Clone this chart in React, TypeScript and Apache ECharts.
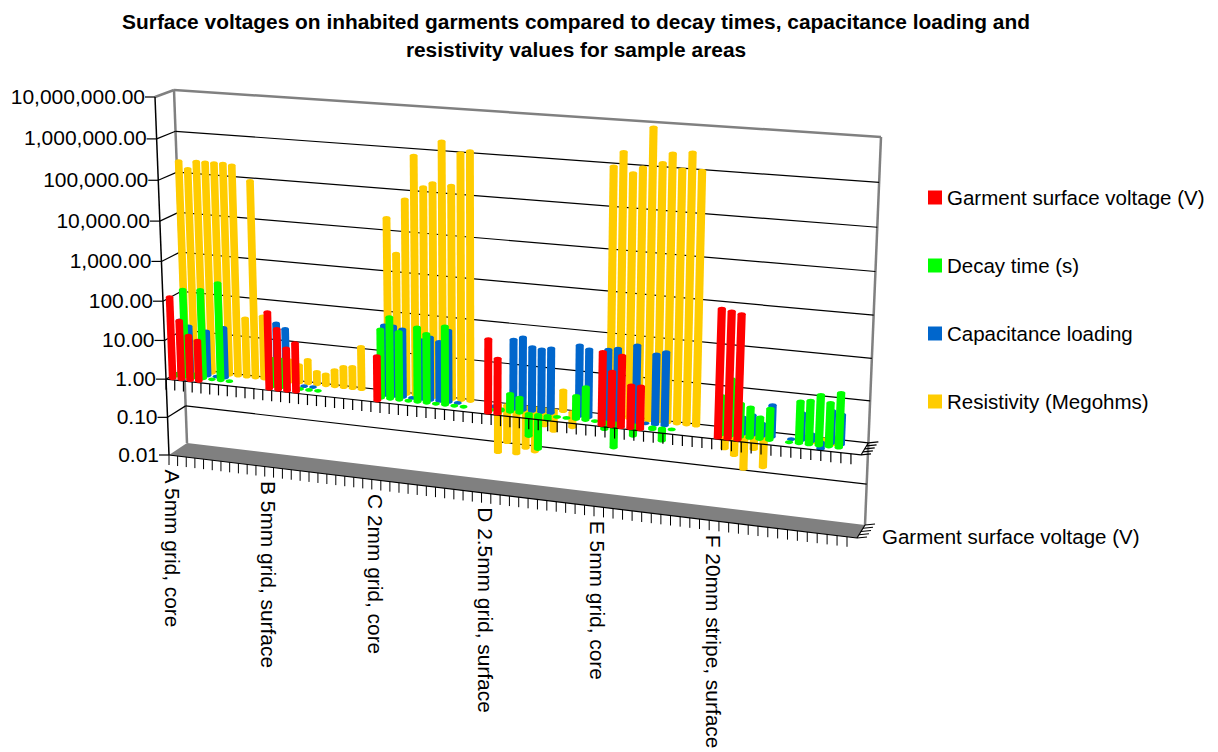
import React, { useEffect, useRef } from "react";
import * as echarts from "echarts";

const FONT = '"Liberation Sans", Arial, sans-serif';
const CATEGORY_COUNT = 74;
const categoryIndex = Array.from({ length: CATEGORY_COUNT }, (_, i) => String(i));
const categoryLabels: [number, string][] = [
  [0, "A 5mm grid, core"],
  [11, "B 5mm grid, surface"],
  [23, "C 2mm grid, core"],
  [35, "D 2.5mm grid, surface"],
  [47, "E 5mm grid, core"],
  [59, "F 20mm stripe, surface"],
];
const yTickValues = [0.01, 0.1, 1, 10, 100, 1000, 10000, 100000, 1000000, 10000000];
const yTickLabels = ["0.01", "0.10", "1.00", "10.00", "100.00", "1,000.00", "10,000.00", "100,000.00", "1,000,000.00", "10,000,000.00"];
const legendNames = ["Garment surface voltage (V)", "Decay time (s)", "Capacitance loading", "Resistivity (Megohms)"];

const redBars = [
  [0, 120], [1, 32], [2, 14], [3, 11],
  [11, 88], [12, 35], [13, 12], [14, 17],
  [23, 13],
  [35, 65], [36, 23],
  [47, 60], [48, 21], [49, 54], [50, 11], [51, 11],
  [59, 1150], [60, 1050], [61, 950],
];
const greenBars = [
  [0, 1.1], [1, 170], [2, 1.2], [3, 185], [4, 1], [5, 300], [6, 1],
  [11, 5], [12, 5], [14, 1], [15, 1], [16, 1],
  [23, 52], [24, 110], [25, 50], [26, 1], [27, 72], [28, 52], [29, 1], [30, 88], [31, 1], [32, 1],
  [35, 1], [36, 1.1], [37, 2.8], [38, 2.4], [39, 0.28], [40, 0.14], [41, 0.8], [42, 1], [43, 1], [44, 3.7], [45, 6.4], [46, 1],
  [47, 0.67], [48, 0.25], [50, 0.55], [52, 0.9], [53, 0.5], [54, 1],
  [59, 8.7], [60, 23], [61, 6.3], [62, 5.4], [63, 3.3], [64, 5.7], [66, 1], [67, 10], [68, 11], [69, 16], [70, 11], [71, 20],
];
const blueBars = [
  [0, 23], [1, 17], [3, 14], [4, 1], [5, 19],
  [11, 34], [12, 26], [14, 1], [15, 1],
  [23, 56], [24, 56], [25, 50], [26, 1], [27, 30], [28, 37], [29, 30], [30, 60], [31, 1],
  [35, 1.05], [37, 52], [38, 62], [39, 38], [40, 35], [41, 39], [44, 54], [45, 46],
  [47, 50], [48, 56], [50, 74], [51, 1], [52, 50], [53, 60],
  [61, 2.5], [62, 3], [63, 2], [64, 5.9], [66, 1], [67, 4.5], [68, 1.5], [69, 0.7], [70, 6], [71, 5.2],
];
const yellowBars = [
  [0, 200000], [1, 135000], [2, 210000], [3, 210000], [4, 210000], [5, 210000], [6, 200000], [7, 32], [8, 90000], [9, 40],
  [12, 3.5], [13, 2.8], [14, 4], [15, 2.1], [16, 1.9], [17, 2.6], [18, 3.3], [19, 3.5], [20, 12],
  [23, 21000], [24, 3000], [25, 64000], [26, 730000], [27, 135000], [28, 175000], [29, 1750000], [30, 165000], [31, 1000000], [32, 1150000],
  [35, 0.06], [36, 0.115], [37, 0.063], [38, 0.093], [39, 0.08], [40, 0.39], [41, 0.3], [42, 3.3], [43, 0.42],
  [47, 900000], [48, 2000000], [49, 680000], [50, 950000], [51, 8000000], [52, 1300000], [53, 2200000], [54, 1000000], [55, 2500000], [56, 1000000],
  [59, 0.33], [60, 0.24], [61, 0.117], [62, 0.38], [63, 0.145], [68, 0.8], [69, 0.8], [70, 0.8],
];

type P = [number, number];
const FLB: P = [169, 455], FLT: P = [155, 97], FRB: P = [857, 538], FRT: P = [876, 146];
const BLB: P = [187, 443], BLT: P = [174, 90], BRB: P = [865, 525], BRT: P = [881, 137];
const mix = (a: P, b: P, k: number): P => [a[0] + (b[0] - a[0]) * k, a[1] + (b[1] - a[1]) * k];

// Perspective of the 3D box: unit x, height t and depth z to page pixels
function project(x: number, t: number, z: number): P {
  const xw = 0.925 * x + 0.075 * x * x;
  const tw = 0.94 * t + 0.06 * t * t;
  const fl = mix(FLB, FLT, tw), fr = mix(FRB, FRT, tw);
  const bl = mix(BLB, BLT, tw), br = mix(BRB, BRT, tw);
  return mix(mix(fl, fr, xw), mix(bl, br, xw), z);
}

function unit(api: any, params: any, cat: number, v: number) {
  const c = api.coord([cat, v]);
  const s = params.coordSys;
  return { x: (c[0] - s.x) / s.width, t: 1 - (c[1] - s.y) / s.height };
}

const seg = (a: P, b: P, stroke: string, lineWidth = 1.2) => ({
  type: "line",
  shape: { x1: a[0], y1: a[1], x2: b[0], y2: b[1] },
  style: { stroke, lineWidth },
  silent: true,
});

const barRender = (depth: number, color: string) => (params: any, api: any) => {
  const cat = api.value(0), v = api.value(1);
  const top = unit(api, params, cat, v);
  const base = unit(api, params, cat, 1);
  const a = project(base.x, base.t, depth), b = project(top.x, top.t, depth);
  const hw = 3.8 + 0.4 * base.x, ry = 1.9;
  const style = { fill: color };
  const children: any[] = [
    { type: "ellipse", shape: { cx: a[0], cy: a[1], rx: hw, ry }, style },
  ];
  if (Math.abs(a[1] - b[1]) > 0.5) {
    children.push(
      { type: "polygon", shape: { points: [[a[0] - hw, a[1]], [a[0] + hw, a[1]], [b[0] + hw, b[1]], [b[0] - hw, b[1]]] }, style },
      { type: "ellipse", shape: { cx: b[0], cy: b[1], rx: hw, ry }, style },
    );
  }
  return { type: "group", children };
};

const barSeries = (name: string, data: number[][], depth: number, color: string) => ({
  type: "custom",
  name,
  data,
  clip: false,
  encode: { x: 0, y: 1 },
  itemStyle: { color },
  renderItem: barRender(depth, color),
});

const frameRender = (params: any, api: any) => {
  const g = "#808080";
  const floor = [project(0, 0, 0), project(1, 0, 0), project(1, 0, 1), project(0, 0, 1)];
  return {
    type: "group",
    children: [
      { type: "polygon", shape: { points: floor }, style: { fill: g } },
      seg(project(0, 1, 0), project(0, 1, 1), g, 2.5),
      seg(project(0, 1, 1), project(1, 1, 1), g, 2.5),
      seg(project(0, 1, 1), project(0, 0, 1), g, 2.5),
      seg(project(1, 1, 1), project(1, 0, 1), g, 2.5),
      seg(project(0, 1, 0), project(0, 0, 0), "#000", 1.5),
      seg(project(0, 0, 0), project(1, 0, 0), "#000", 1.2),
      { type: "text", x: 882, y: 536, style: { text: legendNames[0], font: `20.5px ${FONT}`, fill: "#000", textAlign: "left", textVerticalAlign: "middle" } },
    ],
  };
};

const gridRender = (params: any, api: any) => {
  const i = params.dataIndex;
  const t = unit(api, params, 0, yTickValues[i]).t;
  const fl = project(0, t, 0), bl = project(0, t, 1), br = project(1, t, 1);
  const children: any[] = [
    seg(fl, [fl[0] - 10, fl[1]], "#000", 1.2),
    { type: "text", x: fl[0] - 10, y: fl[1] - 1, style: { text: yTickLabels[i], font: `21px ${FONT}`, fill: "#000", textAlign: "right", textVerticalAlign: "middle" } },
  ];
  if (i > 0 && i < yTickValues.length - 1) {
    children.push(seg(fl, bl, "#000", 1.2), seg(bl, br, "#000", 1.2));
  }
  return { type: "group", children };
};

// Depth-axis ticks at the right of the floor and of the 1.00 plane
const depthTicks = (t: number) => {
  const out: any[] = [seg(project(1, t, 0), project(1, t, 1), "#000", 1.2)];
  [0, 0.25, 0.5, 0.75, 1].forEach((z) => {
    const p = project(1, t, z);
    out.push(seg(p, [p[0] + 10, p[1] - 1], "#000", 1.2));
  });
  return out;
};

const floorTickRender = (params: any, api: any) => {
  const i = params.dataIndex;
  const s = params.coordSys;
  const left = (api.coord([i, 1])[0] - s.x) / s.width - 0.5 / CATEGORY_COUNT;
  const p = project(left, 0, 0);
  const children: any[] = [seg(p, [p[0], p[1] + 10], "#000", 1)];
  const lab = categoryLabels.find((c) => c[0] === i);
  if (lab) {
    const q = project(left + 0.5 / CATEGORY_COUNT, 0, 0);
    children.push({
      type: "text", x: q[0] - 1, y: q[1] + 14, rotation: -Math.PI / 2,
      style: { text: lab[1], font: `20.9px ${FONT}`, fill: "#000", textAlign: "left", textVerticalAlign: "middle" },
    });
  }
  if (i === 0) children.push(...depthTicks(0));
  return { type: "group", children };
};

const baseTickRender = (params: any, api: any) => {
  const i = params.dataIndex;
  const s = params.coordSys;
  const left = (api.coord([i, 1])[0] - s.x) / s.width - 0.5 / CATEGORY_COUNT;
  const tb = unit(api, params, 0, 1).t;
  const p = project(left, tb, 0);
  const children: any[] = [seg(p, [p[0], p[1] + 10.5], "#000", 1.2)];
  if (i === 0) {
    children.push(seg(project(0, tb, 0), project(1, tb, 0), "#000", 1.2), ...depthTicks(tb));
  }
  return { type: "group", children };
};

const helper = (data: any[], renderItem: any) => ({
  type: "custom", data, clip: false, silent: true, encode: { x: 0 }, renderItem,
});

export default function App() {
  const ref = useRef<HTMLDivElement>(null);
  useEffect(() => {
    document.body.style.margin = "0";
    const chart = echarts.init(ref.current!, undefined, { renderer: "svg" });
    chart.setOption({
      animation: false,
      backgroundColor: "#fff",
      title: {
        text: "Surface voltages on inhabited garments compared to decay times, capacitance loading and\nresistivity values for sample areas",
        left: 571, top: 3, textAlign: "center",
        textStyle: { fontFamily: FONT, fontWeight: "bold", fontSize: 20.9, lineHeight: 27.5, color: "#000" },
      },
      legend: {
        data: legendNames, orient: "vertical", left: 923, top: 182, itemWidth: 14, itemHeight: 14, itemGap: 47,
        icon: "rect", selectedMode: false,
        textStyle: { fontFamily: FONT, fontSize: 20.5, color: "#000" },
      },
      grid: { left: 0, top: 0, right: 0, bottom: 0 },
      xAxis: { type: "category", data: categoryIndex, show: false },
      yAxis: { type: "log", logBase: 10, min: 0.01, max: 10000000, show: false },
      series: [
        helper([[0, 1]], frameRender),
        helper(yTickValues.map((v) => [0, v]), gridRender),
        helper(categoryIndex.map((_, i) => [i, 1]), floorTickRender),
        barSeries(legendNames[3], yellowBars, 0.875, "#ffcc00"),
        barSeries(legendNames[2], blueBars, 0.625, "#0066cc"),
        barSeries(legendNames[1], greenBars, 0.375, "#00ff00"),
        helper(categoryIndex.map((_, i) => [i, 1]), baseTickRender),
        barSeries(legendNames[0], redBars, 0.125, "#ff0000"),
      ],
    });
    return () => chart.dispose();
  }, []);
  return <div ref={ref} style={{ width: 1218, height: 752 }} />;
}
